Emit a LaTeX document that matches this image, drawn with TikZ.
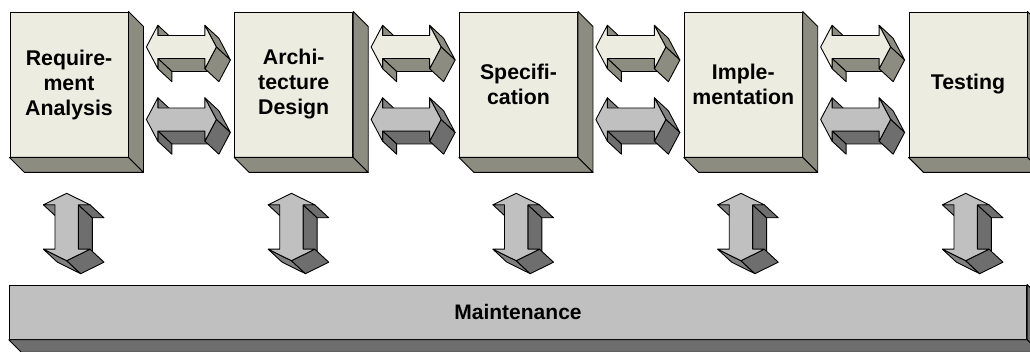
\documentclass[tikz,border=0pt]{standalone}
\usepackage{fontspec}
\setmainfont{Liberation Sans}
\usetikzlibrary{calc}

\definecolor{boxfront}{HTML}{ECECE0}
\definecolor{boxside}{HTML}{8C8C80}
\definecolor{greyfront}{HTML}{C0C0C0}
\definecolor{greylight}{HTML}{808080}
\definecolor{greydark}{HTML}{6E6E6E}

% extrusion depth of the block arrows
\def\ax{14}
\def\ay{13}

\tikzset{
  face/.style={draw=black, line width=0.9pt, line join=round},
  phase/.style={face, fill=boxfront, minimum width=118pt, minimum height=145pt,
    inner sep=0pt, align=center, font=\fontsize{21.3}{25}\selectfont\bfseries},
  maintbar/.style={face, fill=greyfront, minimum width=1017.4pt, minimum height=54.3pt,
    inner sep=0pt, font=\fontsize{21}{25}\selectfont\bfseries},
  % horizontal 3D double arrow: #1 front, #2 upper side faces, #3 lower side faces
  pics/hdouble/.style n args={3}{code={
    \draw[face, fill=#3] (23.5,11.5) -- (-23.5,11.5) -- (-23.5+\ax,11.5+\ay) -- (23.5+\ax,11.5+\ay) -- cycle;
    \draw[face, fill=#3] (-23.5,11.5) -- (-23.5,21.7) -- (-23.5+\ax,21.7+\ay) -- (-23.5+\ax,11.5+\ay) -- cycle;
    \draw[face, fill=#2] (-23.5,-21.7) -- (-23.5,-11.5) -- (-23.5+\ax,-11.5+\ay) -- (-23.5+\ax,-21.7+\ay) -- cycle;
    \draw[face, fill=#2] (23.5,-21.7) -- (35,0) -- (35+\ax,\ay) -- (23.5+\ax,-21.7+\ay) -- cycle;
    \draw[face, fill=#3] (35,0) -- (23.5,21.7) -- (23.5+\ax,21.7+\ay) -- (35+\ax,\ay) -- cycle;
    \draw[face, fill=#1] (-35,0) -- (-23.5,-21.7) -- (-23.5,-11.5) -- (23.5,-11.5) -- (23.5,-21.7)
      -- (35,0) -- (23.5,21.7) -- (23.5,11.5) -- (-23.5,11.5) -- (-23.5,21.7) -- cycle;
  }},
  % vertical 3D double arrow
  pics/vdouble/.style={code={
    \draw[face, fill=greylight] (-11.7,-22.2) -- (-23.3,-22.2) -- (-23.3+\ax,-22.2+\ay) -- (-11.7+\ax,-22.2+\ay) -- cycle;
    \draw[face, fill=greydark] (11.7,-22.2) -- (11.7,22.2) -- (11.7+\ax,22.2+\ay) -- (11.7+\ax,-22.2+\ay) -- cycle;
    \draw[face, fill=greydark] (23.3,-22.2) -- (11.7,-22.2) -- (11.7+\ax,-22.2+\ay) -- (23.3+\ax,-22.2+\ay) -- cycle;
    \draw[face, fill=greylight] (0,33.7) -- (-23.3,22.2) -- (-23.3+\ax,22.2+\ay) -- (\ax,33.7+\ay) -- cycle;
    \draw[face, fill=greydark] (23.3,22.2) -- (0,33.7) -- (\ax,33.7+\ay) -- (23.3+\ax,22.2+\ay) -- cycle;
    \draw[face, fill=greyfront] (0,-33.7) -- (23.3,-22.2) -- (11.7,-22.2) -- (11.7,22.2) -- (23.3,22.2)
      -- (0,33.7) -- (-23.3,22.2) -- (-11.7,22.2) -- (-11.7,-22.2) -- (-23.3,-22.2) -- cycle;
  }}
}

% side and bottom faces of an extruded block node
\newcommand\blockdepth[3]{%
  \draw[face, fill=#3] (#1.north east) -- ++(#2,#2) -- ($(#1.south east)+(#2,#2)$) -- (#1.south east) -- cycle;
  \draw[face, fill=#3] (#1.south west) -- (#1.south east) -- ($(#1.south east)+(#2,#2)$) -- ($(#1.south west)+(#2,#2)$) -- cycle;
}

\begin{document}
\begin{tikzpicture}[x=1pt, y=-1pt]
\useasboundingbox (0,0) rectangle (1030,352);
\clip (0,0) rectangle (1030,352);

% development phases
\node[phase] (req)  at (69,84.5)     {Require-\\ment\\Analysis};
\node[phase] (arch) at (293.75,84.5) {Archi-\\tecture\\Design};
\node[phase] (spec) at (518.5,84.5)  {Specifi-\\cation};
\node[phase] (impl) at (743.25,84.5) {Imple-\\mentation};
\node[phase] (test) at (968,84.5)    {Testing};
\foreach \n in {req,arch,spec,impl,test} {\blockdepth{\n}{15}{boxside}}

% forward and backward flow between neighbouring phases
\foreach \a/\b in {req/arch, arch/spec, spec/impl, impl/test} {
  \path ($(\a.east)!0.5!(\b.west)$) +(0,-37.5) pic {hdouble={boxfront}{boxside}{boxside}};
  \path ($(\a.east)!0.5!(\b.west)$) +(0,35) pic {hdouble={greyfront}{greylight}{greydark}};
}

% maintenance underlies every phase
\node[maintbar] (maint) at (518,312.15) {Maintenance};
\blockdepth{maint}{12.5}{greydark}

\foreach \n in {req,arch,spec,impl,test} {
  \path (\n.center) ++(-2.3,142.5) pic {vdouble};
}
\end{tikzpicture}
\end{document}
